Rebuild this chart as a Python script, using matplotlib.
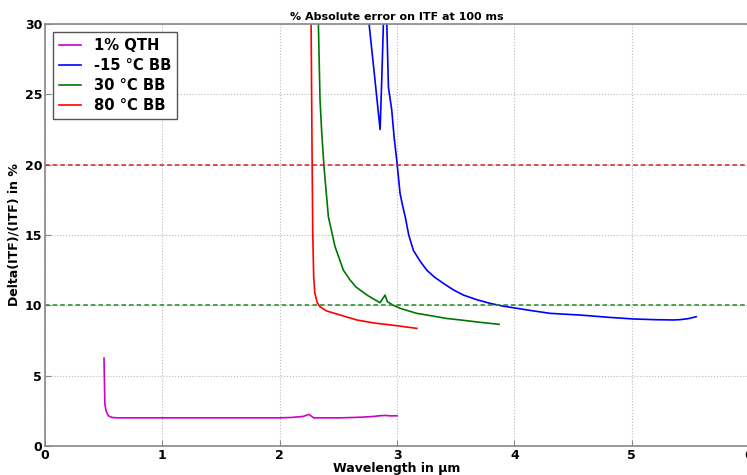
import matplotlib
matplotlib.use("Agg")
import matplotlib.pyplot as plt

qth_x = [0.503, 0.51, 0.52, 0.54, 0.57, 0.62, 0.8, 1.2, 1.6, 2.0, 2.1, 2.2, 2.25, 2.29, 2.35, 2.5, 2.6, 2.7, 2.8, 2.85, 2.9, 2.95, 3.0]
qth_y = [6.25, 3.0, 2.5, 2.15, 2.03, 2.0, 2.0, 2.0, 2.0, 2.0, 2.03, 2.1, 2.25, 2.0, 2.0, 2.0, 2.02, 2.05, 2.1, 2.15, 2.17, 2.14, 2.15]

bbm15_x = [2.762, 2.80, 2.83, 2.856, 2.87, 2.884, 2.90, 2.913, 2.927, 2.955, 2.975, 2.998, 3.026, 3.05, 3.07, 3.10, 3.14, 3.20, 3.254, 3.32, 3.396, 3.48, 3.566, 3.68, 3.794, 3.90, 4.02, 4.15, 4.305, 4.56, 4.8, 5.015, 5.2, 5.356, 5.41, 5.48, 5.55]
bbm15_y = [30.0, 27.0, 24.6, 22.5, 26.0, 30.0, 31.0, 30.0, 25.5, 23.9, 22.0, 20.3, 17.96, 17.0, 16.3, 15.0, 13.9, 13.1, 12.5, 12.0, 11.56, 11.1, 10.73, 10.4, 10.14, 9.95, 9.79, 9.62, 9.43, 9.31, 9.15, 9.03, 8.98, 8.96, 8.98, 9.05, 9.19]

bb30_x = [2.330, 2.344, 2.359, 2.378, 2.415, 2.472, 2.543, 2.60, 2.651, 2.685, 2.75, 2.80, 2.856, 2.898, 2.918, 2.97, 3.026, 3.168, 3.34, 3.42, 3.54, 3.70, 3.87]
bb30_y = [30.0, 24.6, 22.2, 19.85, 16.3, 14.17, 12.5, 11.8, 11.3, 11.09, 10.7, 10.45, 10.19, 10.73, 10.26, 10.0, 9.79, 9.43, 9.19, 9.07, 8.96, 8.8, 8.65]

bb80_x = [2.262, 2.268, 2.275, 2.282, 2.29, 2.30, 2.32, 2.344, 2.40, 2.5, 2.657, 2.8, 3.0, 3.17]
bb80_y = [31.0, 30.0, 22.0, 15.1, 12.0, 10.85, 10.2, 9.9, 9.6, 9.35, 8.96, 8.75, 8.55, 8.36]

thresholds = [20, 10]
threshold_colors = ["#cc2222", "#228822"]

series = [
    ("1% QTH", qth_x, qth_y, "#cc00cc"),
    ("-15 °C BB", bbm15_x, bbm15_y, "#0000ff"),
    ("30 °C BB", bb30_x, bb30_y, "#007700"),
    ("80 °C BB", bb80_x, bb80_y, "#ff0000"),
]

plt.rcParams['font.family'] = ['DejaVu Sans']
plt.rcParams['font.weight'] = 'bold'

fig = plt.figure(figsize=(7.47, 4.75), dpi=100)
ax = fig.add_axes([45 / 747, 1 - 446 / 475, 704 / 747, (446 - 24) / 475])

for label, xs, ys, c in series:
    ax.plot(xs, ys, color=c, lw=1.2, label=label)

for t, c in zip(thresholds, threshold_colors):
    ax.axhline(t, color=c, ls="--", lw=1.1, dashes=(3, 2))

ax.set_xlim(0, 6)
ax.set_ylim(0, 30)
ax.set_xticks(range(0, 7))
ax.set_yticks(range(0, 31, 5))
ax.grid(True, color="#bbbbbb", ls=":", lw=0.8)
for s in ax.spines.values():
    s.set_color("#888888")
    s.set_linewidth(1.2)
ax.tick_params(direction="in", length=4, colors="#888888", labelcolor="black", labelsize=9, pad=2)
for lab in ax.get_xticklabels() + ax.get_yticklabels():
    lab.set_fontweight("bold")

ax.set_title("% Absolute error on ITF at 100 ms", fontsize=8, fontweight="bold", pad=3)
ax.set_xlabel("Wavelength in µm", fontsize=9, fontweight="bold", labelpad=0)
ax.set_ylabel("Delta(ITF)/(ITF) in %", fontsize=9, fontweight="bold", labelpad=3)

leg = ax.legend(loc="upper left", prop={"size": 10.6, "weight": "bold"}, fancybox=False,
                framealpha=1, handlelength=1.5, handletextpad=0.9, borderpad=0.4,
                labelspacing=0.34, borderaxespad=0,
                bbox_to_anchor=(8 / 704, 1 - 8 / 422))
leg.get_frame().set_edgecolor("#555555")

fig.savefig("out.png", dpi=100)
